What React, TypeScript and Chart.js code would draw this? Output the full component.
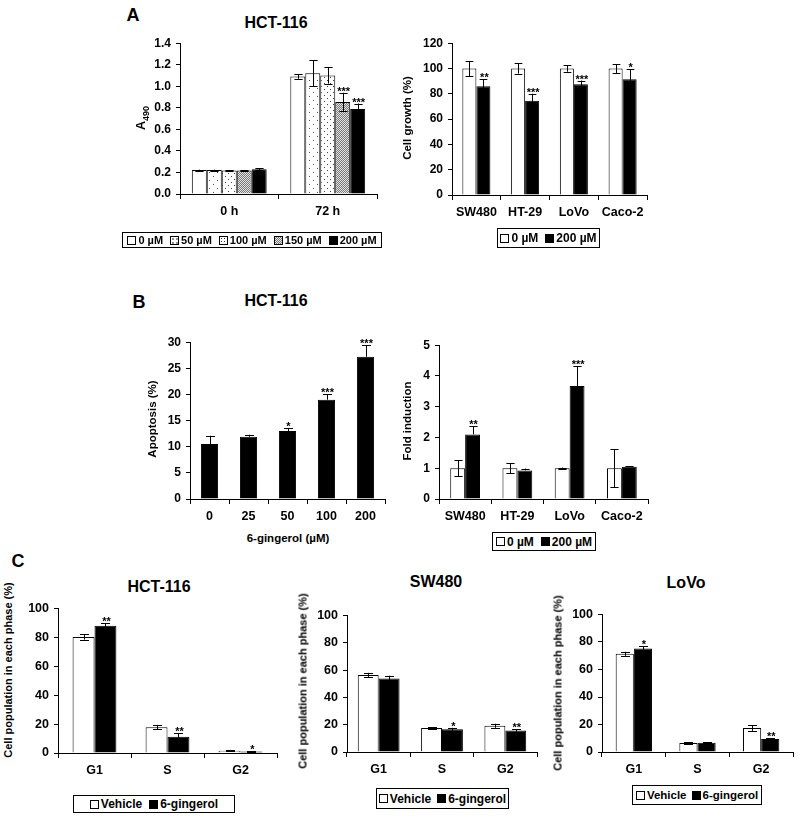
import React, { useEffect, useRef } from 'react';
import { Chart, registerables } from 'chart.js';

Chart.register(...registerables);

const FONT = '"Liberation Sans", Arial, Helvetica, sans-serif';

// ---------------- DATA ----------------
// Panel A (left) – HCT-116, A490
const a1Times = ['0 h', '72 h'];
const a1DoseLabels = ['0 µM', '50 µM', '100 µM', '150 µM', '200 µM'];
const a1Dose0 = [0.222, 1.09];
const a1Dose0Err = [0.004, 0.02];
const a1Dose50 = [0.222, 1.12];
const a1Dose50Err = [0.004, 0.12];
const a1Dose100 = [0.218, 1.1];
const a1Dose100Err = [0.004, 0.075];
const a1Dose150 = [0.218, 0.855];
const a1Dose150Err = [0.004, 0.085];
const a1Dose200 = [0.23, 0.79];
const a1Dose200Err = [0.008, 0.05];
const a1Stars150 = ['', '***'];
const a1Stars200 = ['', '***'];
const a1YMax = 1.4;
const a1YStep = 0.2;

// Panel A (right) – cell growth (%)
const a2Lines = ['SW480', 'HT-29', 'LoVo', 'Caco-2'];
const a2Control = [100, 100, 100, 100];
const a2ControlErr = [6, 4, 2.5, 3.5];
const a2Treated = [86, 74.5, 87.5, 91.5];
const a2TreatedErr = [5.5, 5.5, 3, 8];
const a2Stars = ['**', '***', '***', '*'];
const a2YMax = 120;
const a2YStep = 20;
const abLegend = ['0 µM', '200 µM'];

// Panel B (left) – HCT-116 apoptosis (%)
const b1Doses = ['0', '25', '50', '100', '200'];
const b1Apoptosis = [10.5, 11.9, 13.0, 19.0, 27.2];
const b1ApoptosisErr = [1.6, 0.4, 0.6, 1.0, 2.2];
const b1Stars = ['', '', '*', '***', '***'];
const b1YMax = 30;
const b1YStep = 5;

// Panel B (right) – fold induction
const b2Lines = ['SW480', 'HT-29', 'LoVo', 'Caco-2'];
const b2Control = [1, 1, 1, 1];
const b2ControlErr = [0.26, 0.16, 0.02, 0.62];
const b2Treated = [2.1, 0.93, 3.67, 1.05];
const b2TreatedErr = [0.26, 0.06, 0.65, 0.02];
const b2Stars = ['**', '', '***', ''];
const b2YMax = 5;
const b2YStep = 1;

// Panel C – cell cycle phases
const cPhases = ['G1', 'S', 'G2'];
const cLegend = ['Vehicle', '6-gingerol'];
const cYMax = 100;
const cYStep = 20;
const c1Vehicle = [80.3, 17.9, 1.6];
const c1VehicleErr = [1.8, 1.5, 0.5];
const c1Ginger = [88.0, 11.2, 1.0];
const c1GingerErr = [2.0, 2.5, 0.3];
const c1Stars = ['**', '**', '*'];
const c2Vehicle = [56.5, 17.5, 19.2];
const c2VehicleErr = [1.5, 0.6, 1.5];
const c2Ginger = [53.9, 16.7, 15.8];
const c2GingerErr = [2.0, 1.0, 1.0];
const c2Stars = ['', '*', '**'];
const c3Vehicle = [71.4, 6.6, 17.4];
const c3VehicleErr = [1.5, 0.5, 2.0];
const c3Ginger = [75.3, 6.7, 9.4];
const c3GingerErr = [1.5, 0.5, 0.6];
const c3Stars = ['*', '', '**'];

// ---------------- HELPERS ----------------
type Series = {
  label: string;
  data: number[];
  err: number[];
  stars?: string[];
  fill: string;
  upOnly?: boolean;
};

type Spec = {
  L: number; T: number; R: number; B: number;
  labels: string[];
  series: Series[];
  yMax: number; yStep: number; decimals: number;
  catPct: number; barPct: number;
  tickSize: number; labelSize: number;
};

function makePattern(kind: string): CanvasPattern | string {
  if (kind === 'white') return '#ffffff';
  if (kind === 'black') return '#000000';
  const c = document.createElement('canvas');
  const g = c.getContext('2d')!;
  if (kind === 'sparse') {
    c.width = 8; c.height = 8;
    g.fillStyle = '#fff'; g.fillRect(0, 0, 8, 8);
    g.fillStyle = '#555';
    g.fillRect(1, 1, 1, 1); g.fillRect(5, 5, 1, 1);
  } else if (kind === 'dots') {
    c.width = 6; c.height = 6;
    g.fillStyle = '#fff'; g.fillRect(0, 0, 6, 6);
    g.fillStyle = '#444';
    g.fillRect(1, 1, 1, 1); g.fillRect(4, 4, 1, 1);
  } else {
    c.width = 2; c.height = 2;
    g.fillStyle = '#e4e4e4'; g.fillRect(0, 0, 2, 2);
    g.fillStyle = '#777';
    g.fillRect(0, 0, 1, 1); g.fillRect(1, 1, 1, 1);
  }
  return g.createPattern(c, 'repeat')!;
}

const errorBarPlugin = {
  id: 'errorBars',
  afterDatasetsDraw(chart: any) {
    const ctx = chart.ctx;
    const yScale = chart.scales.y;
    chart.data.datasets.forEach((ds: any, di: number) => {
      const meta = chart.getDatasetMeta(di);
      meta.data.forEach((el: any, i: number) => {
        const v = ds.data[i];
        const e = ds.errors ? ds.errors[i] : 0;
        const yTop = yScale.getPixelForValue(v + e);
        const yBot = yScale.getPixelForValue(v - e);
        const cap = Math.min(el.width * 0.55, 9) / 2;
        const x = Math.round(el.x) + 0.5;
        ctx.save();
        ctx.strokeStyle = '#000';
        ctx.lineWidth = 1;
        ctx.beginPath();
        ctx.moveTo(x, yTop);
        ctx.lineTo(x, ds.upOnly ? el.y : yBot);
        ctx.moveTo(x - cap, Math.round(yTop) + 0.5);
        ctx.lineTo(x + cap, Math.round(yTop) + 0.5);
        if (!ds.upOnly) {
          ctx.moveTo(x - cap, Math.round(yBot) + 0.5);
          ctx.lineTo(x + cap, Math.round(yBot) + 0.5);
        }
        ctx.stroke();
        const s = ds.stars ? ds.stars[i] : '';
        if (s) {
          ctx.font = `bold 11px ${FONT}`;
          ctx.textAlign = 'center';
          ctx.textBaseline = 'alphabetic';
          ctx.fillStyle = '#000';
          ctx.fillText(s, el.x + 1, yTop + 2);
        }
        ctx.restore();
      });
    });
  },
};

const Y_W = 40;
const X_H = 30;
const PAD_TOP = 12;
const PAD_RIGHT = 4;

function BarPanel({ spec }: { spec: Spec }) {
  const ref = useRef<HTMLCanvasElement>(null);
  const w = Y_W + (spec.R - spec.L) + PAD_RIGHT;
  const h = PAD_TOP + (spec.B - spec.T) + X_H;
  useEffect(() => {
    const chart = new Chart(ref.current!, {
      type: 'bar',
      data: {
        labels: spec.labels,
        datasets: spec.series.map((s) => ({
          label: s.label,
          data: s.data,
          backgroundColor: makePattern(s.fill) as any,
          borderColor: '#000',
          borderWidth: 1,
          categoryPercentage: spec.catPct,
          barPercentage: spec.barPct,
          errors: s.err,
          stars: s.stars,
          upOnly: s.upOnly,
        })) as any,
      },
      options: {
        responsive: false,
        animation: false,
        events: [],
        layout: { padding: { top: PAD_TOP, right: PAD_RIGHT, left: 0, bottom: 0 } },
        plugins: {
          legend: { display: false },
          tooltip: { enabled: false },
          title: { display: false },
        },
        scales: {
          x: {
            offset: true,
            grid: { offset: true, drawOnChartArea: false, drawTicks: true, tickLength: 5, color: '#000', lineWidth: 1 },
            border: { display: true, color: '#000', width: 1 },
            ticks: {
              color: '#000',
              font: { family: FONT, size: spec.labelSize, weight: 'bold' },
              padding: 5,
              maxRotation: 0,
              autoSkip: false,
            },
            afterFit: (s: any) => { s.height = X_H; },
          },
          y: {
            min: 0,
            max: spec.yMax,
            grid: { drawOnChartArea: false, drawTicks: true, tickLength: 4, color: '#000', lineWidth: 1 },
            border: { display: true, color: '#000', width: 1 },
            ticks: {
              stepSize: spec.yStep,
              color: '#000',
              font: { family: FONT, size: spec.tickSize, weight: 'bold' },
              padding: 5,
              callback: (v: any) => Number(v).toFixed(spec.decimals),
            },
            afterFit: (s: any) => { s.width = Y_W; },
          },
        },
      } as any,
      plugins: [errorBarPlugin],
    });
    return () => chart.destroy();
  }, []);
  return (
    <canvas
      ref={ref}
      width={w}
      height={h}
      style={{ position: 'absolute', left: spec.L - Y_W, top: spec.T - PAD_TOP, width: w, height: h }}
    />
  );
}

function Txt({ x, y, size, rotate, children }: any) {
  return (
    <div
      style={{
        position: 'absolute',
        left: x,
        top: y,
        transform: `translate(-50%, -50%)${rotate ? ' rotate(-90deg)' : ''}`,
        font: `bold ${size}px ${FONT}`,
        lineHeight: 1,
        whiteSpace: 'nowrap',
        color: '#000',
      }}
    >
      {children}
    </div>
  );
}

const SWATCH: Record<string, string> = {
  white: '#fff',
  black: '#000',
  sparse: 'radial-gradient(circle, #555 0.6px, transparent 0.9px) 0 0 / 4px 4px, #fff',
  dots: 'radial-gradient(circle, #333 0.7px, transparent 1px) 0 0 / 3px 3px, #fff',
  grey: 'repeating-conic-gradient(#777 0 25%, #e4e4e4 0 50%) 0 0 / 2px 2px',
};

function Legend({ x, y, w, h, size, gap, items }: any) {
  return (
    <div
      style={{
        position: 'absolute',
        left: x,
        top: y,
        width: w,
        height: h,
        boxSizing: 'border-box',
        border: '1px solid #000',
        display: 'flex',
        alignItems: 'center',
        justifyContent: 'center',
        gap: gap ?? 7,
        font: `bold ${size}px ${FONT}`,
        whiteSpace: 'nowrap',
        color: '#000',
      }}
    >
      {items.map((it: any) => (
        <span key={it.label} style={{ display: 'flex', alignItems: 'center' }}>
          <span
            style={{
              display: 'inline-block',
              width: 9,
              height: 9,
              boxSizing: 'border-box',
              border: '1px solid #000',
              background: SWATCH[it.fill],
              marginRight: 2,
            }}
          />
          {it.label}
        </span>
      ))}
    </div>
  );
}

// ---------------- SPECS ----------------
const a1Fills = ['white', 'sparse', 'dots', 'grey', 'black'];

const specA1: Spec = {
  L: 180, T: 43, R: 377, B: 194,
  labels: a1Times,
  series: [
    { label: a1DoseLabels[0], data: a1Dose0, err: a1Dose0Err, fill: a1Fills[0] },
    { label: a1DoseLabels[1], data: a1Dose50, err: a1Dose50Err, fill: a1Fills[1] },
    { label: a1DoseLabels[2], data: a1Dose100, err: a1Dose100Err, fill: a1Fills[2] },
    { label: a1DoseLabels[3], data: a1Dose150, err: a1Dose150Err, stars: a1Stars150, fill: a1Fills[3] },
    { label: a1DoseLabels[4], data: a1Dose200, err: a1Dose200Err, stars: a1Stars200, fill: a1Fills[4] },
  ],
  yMax: a1YMax, yStep: a1YStep, decimals: 1,
  catPct: 0.76, barPct: 1, tickSize: 12, labelSize: 12.5,
};

const specA2: Spec = {
  L: 452, T: 43, R: 647, B: 195,
  labels: a2Lines,
  series: [
    { label: abLegend[0], data: a2Control, err: a2ControlErr, fill: 'white' },
    { label: abLegend[1], data: a2Treated, err: a2TreatedErr, stars: a2Stars, fill: 'black' },
  ],
  yMax: a2YMax, yStep: a2YStep, decimals: 0,
  catPct: 0.575, barPct: 1, tickSize: 12, labelSize: 12.5,
};

const specB1: Spec = {
  L: 190, T: 342, R: 385, B: 499,
  labels: b1Doses,
  series: [
    { label: 'Apoptosis', data: b1Apoptosis, err: b1ApoptosisErr, stars: b1Stars, fill: 'black', upOnly: true },
  ],
  yMax: b1YMax, yStep: b1YStep, decimals: 0,
  catPct: 1, barPct: 0.44, tickSize: 12, labelSize: 12.5,
};

const specB2: Spec = {
  L: 439, T: 345, R: 648, B: 499,
  labels: b2Lines,
  series: [
    { label: abLegend[0], data: b2Control, err: b2ControlErr, fill: 'white' },
    { label: abLegend[1], data: b2Treated, err: b2TreatedErr, stars: b2Stars, fill: 'black', upOnly: true },
  ],
  yMax: b2YMax, yStep: b2YStep, decimals: 0,
  catPct: 0.57, barPct: 1, tickSize: 12, labelSize: 12.5,
};

const specC1: Spec = {
  L: 58, T: 608, R: 277, B: 753,
  labels: cPhases,
  series: [
    { label: cLegend[0], data: c1Vehicle, err: c1VehicleErr, fill: 'white' },
    { label: cLegend[1], data: c1Ginger, err: c1GingerErr, stars: c1Stars, fill: 'black' },
  ],
  yMax: cYMax, yStep: cYStep, decimals: 0,
  catPct: 0.6, barPct: 1, tickSize: 12.5, labelSize: 12.5,
};

const specC2: Spec = {
  L: 347, T: 615, R: 537, B: 752,
  labels: cPhases,
  series: [
    { label: cLegend[0], data: c2Vehicle, err: c2VehicleErr, fill: 'white' },
    { label: cLegend[1], data: c2Ginger, err: c2GingerErr, stars: c2Stars, fill: 'black' },
  ],
  yMax: cYMax, yStep: cYStep, decimals: 0,
  catPct: 0.66, barPct: 1, tickSize: 12.5, labelSize: 12.5,
};

const specC3: Spec = {
  L: 602, T: 614, R: 793, B: 752,
  labels: cPhases,
  series: [
    { label: cLegend[0], data: c3Vehicle, err: c3VehicleErr, fill: 'white' },
    { label: cLegend[1], data: c3Ginger, err: c3GingerErr, stars: c3Stars, fill: 'black' },
  ],
  yMax: cYMax, yStep: cYStep, decimals: 0,
  catPct: 0.57, barPct: 1, tickSize: 12.5, labelSize: 12.5,
};

const a1LegendItems = a1DoseLabels.map((label, i) => ({ label, fill: a1Fills[i] }));
const abLegendItems = [
  { label: abLegend[0], fill: 'white' },
  { label: abLegend[1], fill: 'black' },
];
const cLegendItems = [
  { label: cLegend[0], fill: 'white' },
  { label: cLegend[1], fill: 'black' },
];

export default function App() {
  return (
    <div
      style={{
        position: 'absolute',
        left: 0,
        top: 0,
        width: 800,
        height: 822,
        background: '#fff',
        overflow: 'hidden',
      }}
    >
      <BarPanel spec={specA1} />
      <BarPanel spec={specA2} />
      <BarPanel spec={specB1} />
      <BarPanel spec={specB2} />
      <BarPanel spec={specC1} />
      <BarPanel spec={specC2} />
      <BarPanel spec={specC3} />

      {/* Panel letters */}
      <Txt x={133} y={15} size={18}>A</Txt>
      <Txt x={139} y={302} size={18}>B</Txt>
      <Txt x={18} y={561} size={18}>C</Txt>

      {/* Titles */}
      <Txt x={276} y={23} size={16}>HCT-116</Txt>
      <Txt x={276} y={301} size={16}>HCT-116</Txt>
      <Txt x={159} y={587} size={16}>HCT-116</Txt>
      <Txt x={436} y={582} size={16}>SW480</Txt>
      <Txt x={686} y={583} size={16}>LoVo</Txt>

      {/* Y-axis titles */}
      <Txt x={143} y={118} size={12.5} rotate>
        A<sub style={{ fontSize: 9 }}>490</sub>
      </Txt>
      <Txt x={408} y={118} size={11.5} rotate>Cell growth (%)</Txt>
      <Txt x={153} y={419} size={11.5} rotate>Apoptosis (%)</Txt>
      <Txt x={408} y={421} size={11.5} rotate>Fold induction</Txt>
      <Txt x={8} y={670} size={11} rotate>Cell population in each phase (%)</Txt>
      <Txt x={303} y={681} size={11} rotate>Cell population in each phase (%)</Txt>
      <Txt x={558} y={683} size={11} rotate>Cell population in each phase (%)</Txt>

      {/* X-axis title */}
      <Txt x={288} y={539} size={11.5}>6-gingerol (µM)</Txt>

      {/* Legends */}
      <Legend x={122} y={232} w={260} h={16} size={11} items={a1LegendItems} />
      <Legend x={497} y={228} w={103} h={20} size={12} items={abLegendItems} />
      <Legend x={492} y={532} w={104} h={19} size={12} items={abLegendItems} />
      <Legend x={73} y={795} w={162} h={18} size={12} items={cLegendItems} />
      <Legend x={376} y={788} w={133} h={21} size={12} gap={6} items={cLegendItems} />
      <Legend x={632} y={785} w={130} h={20} size={11.5} gap={5} items={cLegendItems} />
    </div>
  );
}
